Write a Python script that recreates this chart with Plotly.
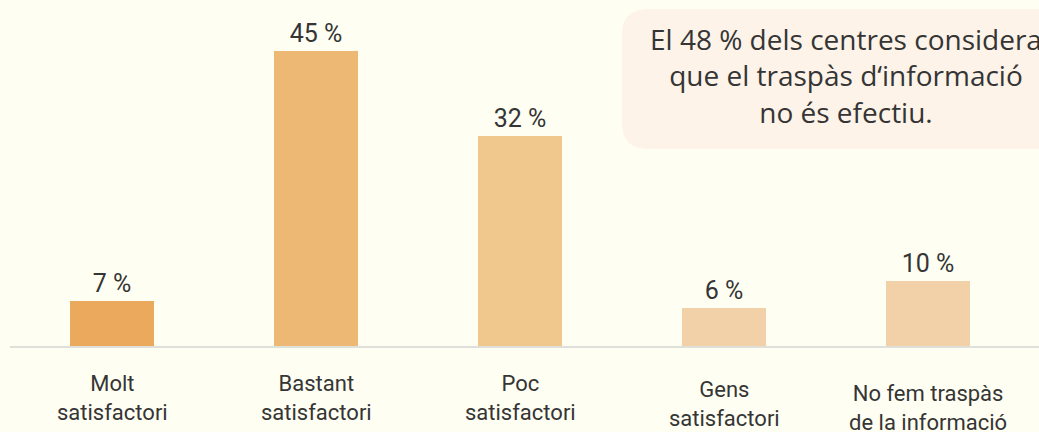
import plotly.graph_objects as go

categories = ["Molt<br>satisfactori", "Bastant<br>satisfactori", "Poc<br>satisfactori",
              "Gens<br>satisfactori", "No fem traspàs<br>de la informació"]
values = [7, 45, 32, 6, 10]
value_labels = ["7 %", "45 %", "32 %", "6 %", "10 %"]
bar_colors = ["#EAA95C", "#ECB874", "#F0C88D", "#F2D1A8", "#F2D1A8"]
label_shift = [0, 0, 0, -6, -10]
callout = "El 48 % dels centres considera<br>que el traspàs d‘informació<br>no és efectiu."

BG = "#FFFEF2"
TXT = "#353535"
FONT = "Roboto"

W, H = 1039, 432
ml, mr, mt, mb = 10, 0, 0, 85
pw, ph = W - ml - mr, H - mt - mb

xs = list(range(len(categories)))
fig = go.Figure(go.Bar(
    x=xs, y=values, width=0.41,
    marker=dict(color=bar_colors, line=dict(width=0)),
    text=value_labels, textposition="outside", cliponaxis=False,
    textfont=dict(family=FONT, size=25, color=TXT),
    hoverinfo="skip",
))

# category labels
for i, c in enumerate(categories):
    fig.add_annotation(x=i, xref="x", y=0, yref="paper", yanchor="top",
                       text=c, showarrow=False, yshift=-22 + label_shift[i],
                       font=dict(family=FONT, size=22, color=TXT), align="center")

# baseline
fig.add_shape(type="line", xref="paper", yref="paper", x0=0, x1=1, y0=0, y1=0,
              line=dict(color="#E0E0DA", width=2), layer="above")

# rounded callout box (pixel geometry -> paper coords)
def px_x(p):
    return (p - ml) / pw
def px_y(p):
    return (H - mb - p) / ph

bx0, bx1, by0, by1, r = 622, 1080, 9, 149, 26
path = (f"M {px_x(bx0 + r)} {px_y(by0)} L {px_x(bx1 - r)} {px_y(by0)} "
        f"Q {px_x(bx1)} {px_y(by0)} {px_x(bx1)} {px_y(by0 + r)} "
        f"L {px_x(bx1)} {px_y(by1 - r)} Q {px_x(bx1)} {px_y(by1)} {px_x(bx1 - r)} {px_y(by1)} "
        f"L {px_x(bx0 + r)} {px_y(by1)} Q {px_x(bx0)} {px_y(by1)} {px_x(bx0)} {px_y(by1 - r)} "
        f"L {px_x(bx0)} {px_y(by0 + r)} Q {px_x(bx0)} {px_y(by0)} {px_x(bx0 + r)} {px_y(by0)} Z")
fig.add_shape(type="path", path=path, xref="paper", yref="paper",
              fillcolor="#FDF3E8", line=dict(width=0), layer="below")

fig.add_annotation(x=px_x(846), y=px_y(75), xref="paper", yref="paper",
                   xanchor="center", yanchor="middle", text=callout, showarrow=False,
                   font=dict(family="Open Sans", size=28, color=TXT), align="center")

fig.update_layout(
    width=W, height=H,
    margin=dict(l=ml, r=mr, t=mt, b=mb),
    paper_bgcolor=BG, plot_bgcolor=BG,
    showlegend=False,
    bargap=0,
    xaxis=dict(range=[-0.5, -0.5 + pw / 204], showticklabels=False, showgrid=False,
               zeroline=False, showline=False, ticks="", fixedrange=True),
    yaxis=dict(range=[0, ph / 6.58], showticklabels=False, showgrid=False,
               zeroline=False, showline=False, ticks="", fixedrange=True),
)

fig.write_html("out.html", config={"displayModeBar": False},
               post_script="document.body.style.margin='0';document.body.style.overflow='hidden';")
